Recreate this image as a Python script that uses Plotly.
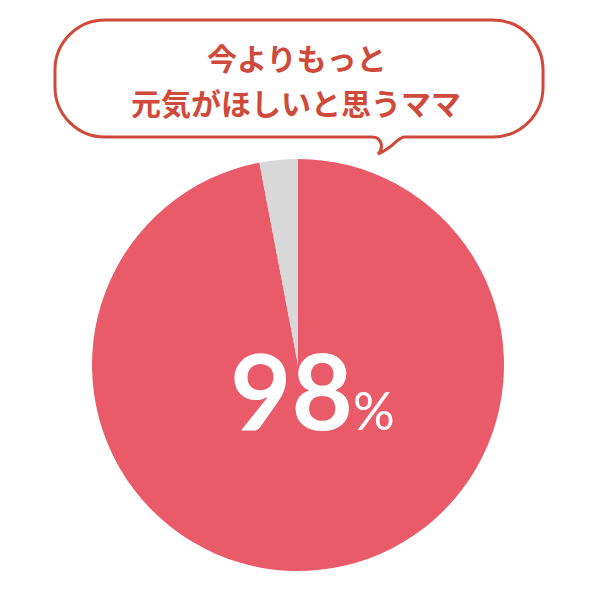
import plotly.graph_objects as go

# survey result (slice sizes as drawn in the picture)
labels = ["思う", "思わない"]
values = [97, 3]
slice_colors = ["#e95b69", "#d9d9d9"]

title_lines = ["今よりもっと", "元気がほしいと思うママ"]
center_number = "98"
center_unit = "%"

W, H = 600, 589
OFF = 8  # page body margin
RED = "#cf4a3b"


def px(x):
    return (x - OFF) / W


def py(y):
    return 1 - (y - OFF) / H


def P(x, y):
    return "%.4f,%.4f" % (px(x), py(y))


# speech bubble outline (pixel coords -> paper)
k = 0.5523
r = 50
x0, x1, y0, y1 = 55, 543, 20, 137
bubble = (
    "M " + P(x0 + r, y0)
    + " L " + P(x1 - r, y0)
    + " C " + P(x1 - r + k * r, y0) + " " + P(x1, y0 + r - k * r) + " " + P(x1, y0 + r)
    + " L " + P(x1, y1 - r)
    + " C " + P(x1, y1 - r + k * r) + " " + P(x1 - r + k * r, y1) + " " + P(x1 - r, y1)
    + " L " + P(405, y1)
    + " C " + P(397, y1) + " " + P(396, 146) + " " + P(378, 154)
    + " C " + P(384, 148) + " " + P(382, y1) + " " + P(372, y1)
    + " L " + P(x0 + r, y1)
    + " C " + P(x0 + r - k * r, y1) + " " + P(x0, y1 - r + k * r) + " " + P(x0, y1 - r)
    + " L " + P(x0, y0 + r)
    + " C " + P(x0, y0 + r - k * r) + " " + P(x0 + r - k * r, y0) + " " + P(x0 + r, y0)
    + " Z"
)

fig = go.Figure()

fig.add_trace(go.Pie(
    labels=labels,
    values=values,
    sort=False,
    direction="clockwise",
    rotation=0,
    marker=dict(colors=slice_colors, line=dict(width=0)),
    textinfo="none",
    hoverinfo="skip",
    showlegend=False,
    domain=dict(x=[px(92), px(504)], y=[py(571), py(159)]),
))

fig.add_shape(type="path", path=bubble, xref="paper", yref="paper",
              line=dict(color=RED, width=3), fillcolor="white", layer="above")

fig.add_annotation(x=px(296), y=py(57), xref="paper", yref="paper",
                   text="<b>" + title_lines[0] + "</b>", showarrow=False,
                   font=dict(family="Noto Sans CJK JP", size=30, color=RED),
                   xanchor="center", yanchor="middle")
fig.add_annotation(x=px(296), y=py(102), xref="paper", yref="paper",
                   text="<b>" + title_lines[1] + "</b>", showarrow=False,
                   font=dict(family="Noto Sans CJK JP", size=30, color=RED),
                   xanchor="center", yanchor="middle")

fig.add_annotation(x=px(312), y=py(389), xref="paper", yref="paper",
                   text="<b>" + center_number + "</b><span style='font-size:52px'>" + center_unit + "</span>",
                   showarrow=False,
                   font=dict(family="Lato", size=106, color="white"),
                   xanchor="center", yanchor="middle")

fig.update_layout(
    width=W, height=H,
    margin=dict(l=0, r=0, t=0, b=0),
    paper_bgcolor="white",
    plot_bgcolor="white",
)

fig.write_html("out.html")
